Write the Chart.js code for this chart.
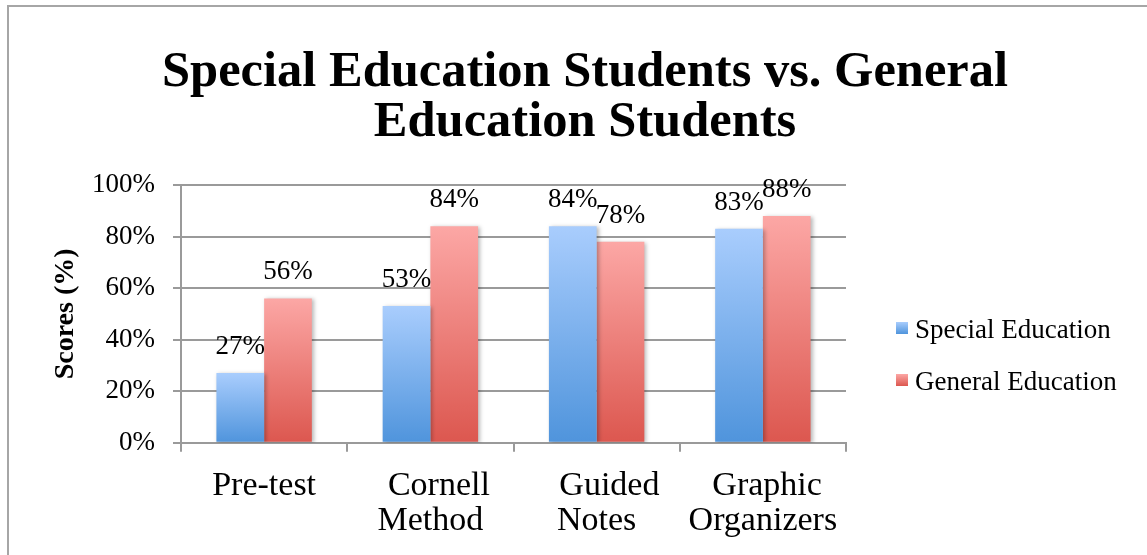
<!DOCTYPE html>
<html><head><meta charset="utf-8">
<script src="https://cdn.jsdelivr.net/npm/chart.js@4.4.1/dist/chart.umd.min.js"></script>
<style>
html,body{margin:0;padding:0;overflow:hidden;background:#fff;width:1147px;height:555px}
#frame{position:absolute;left:7px;top:5px;width:1160px;height:560px;border-left:2px solid #a6a6a6;border-top:2px solid #a6a6a6}
#wrap{position:absolute;left:0;top:0;width:1152px;height:548px}
</style></head><body>
<div id="frame"><div id="wrap"><canvas id="c" width="1152" height="548"></canvas></div></div>
<script>
const categories = ["Pre-test", ["  Cornell", "Method"], ["   Guided", "Notes"], [" Graphic", "Organizers"]];
const seriesNames = ["Special Education", "General Education"];
const specialEd = [27, 53, 84, 83];
const generalEd = [56, 84, 78, 88];
const titleLines = ["Special Education Students vs. General", "Education Students"];
const yAxisTitle = "Scores (%)";

const blueTop = '#a9cdfd', blueBottom = '#4f94dc';
const redTop = '#fca7a5', redBottom = '#dc574f';

function grad(top, bottom) {
  return function (ctx) {
    const chart = ctx.chart;
    if (!chart.chartArea || ctx.type !== 'data') return bottom;
    const y = chart.scales.y;
    const v = ctx.parsed ? ctx.parsed.y : ctx.raw;
    const y0 = y.getPixelForValue(v), y1 = y.getPixelForValue(0);
    const g = chart.ctx.createLinearGradient(0, y0, 0, y1);
    g.addColorStop(0, top);
    g.addColorStop(1, bottom);
    return g;
  };
}

const serif = '"Liberation Serif", "Times New Roman", serif';

const barDecor = {
  id: 'barDecor',
  beforeDatasetsDraw(chart) {
    const c = chart.ctx;
    c.save();
    c.shadowColor = 'rgba(0,0,0,0.28)';
    c.shadowBlur = 4;
    c.shadowOffsetX = 2;
    c.shadowOffsetY = 1;
  },
  afterDatasetsDraw(chart) {
    const c = chart.ctx;
    c.restore();
    c.save();
    c.font = '27px ' + serif;
    c.fillStyle = '#000';
    c.textAlign = 'center';
    c.textBaseline = 'alphabetic';
    chart.data.datasets.forEach((ds, i) => {
      chart.getDatasetMeta(i).data.forEach((bar, j) => {
        c.fillText(ds.data[j] + '%', bar.x, bar.y - 19);
      });
    });
    c.restore();
  }
};

const titleAndLegend = {
  id: 'titleAndLegend',
  afterDraw(chart) {
    const c = chart.ctx;
    c.save();
    // title centred on the whole chart box
    c.font = 'bold 50.5px ' + serif;
    c.fillStyle = '#000';
    c.textAlign = 'center';
    c.textBaseline = 'alphabetic';
    titleLines.forEach((t, i) => c.fillText(t, chart.width / 2, 79 + i * 50));
    // legend
    const colors = [[blueTop, blueBottom], [redTop, redBottom]];
    c.textAlign = 'left';
    c.font = '27px ' + serif;
    c.textBaseline = 'middle';
    chart.data.datasets.forEach((ds, i) => {
      const bx = chart.chartArea.right + 50;
      const by = 315 + i * 52;
      const g = c.createLinearGradient(0, by, 0, by + 12);
      g.addColorStop(0, colors[i][0]);
      g.addColorStop(1, colors[i][1]);
      c.fillStyle = g;
      c.fillRect(bx, by, 12, 12);
      c.fillStyle = '#000';
      c.fillText(ds.label, bx + 19, by + 9);
    });
    c.restore();
  }
};

new Chart(document.getElementById('c'), {
  type: 'bar',
  data: {
    labels: categories,
    datasets: [
      { label: seriesNames[0], data: specialEd, backgroundColor: grad(blueTop, blueBottom), borderWidth: 0 },
      { label: seriesNames[1], data: generalEd, backgroundColor: grad(redTop, redBottom), borderWidth: 0 }
    ]
  },
  options: {
    responsive: false,
    animation: false,
    devicePixelRatio: 1,
    categoryPercentage: 0.574,
    barPercentage: 1.0,
    layout: { padding: { left: 0, right: 315, top: 178, bottom: 0 } },
    plugins: {
      legend: { display: false },
      tooltip: { enabled: false },
      title: { display: false }
    },
    scales: {
      x: {
        afterFit(scale) { scale.height = 112.3; },
        grid: { display: true, drawOnChartArea: false, drawTicks: true, tickLength: 9, color: '#9a9a9a', lineWidth: 2, offset: true },
        border: { display: true, color: '#9a9a9a', width: 2 },
        ticks: { color: '#000', padding: 17, font: { family: serif, size: 34, lineHeight: 1.03 }, maxRotation: 0, autoSkip: false }
      },
      y: {
        min: 0, max: 100,
        afterFit(scale) { scale.width = 172; },
        grid: { color: '#9a9a9a', lineWidth: 2, tickLength: 8 },
        border: { display: true, color: '#9a9a9a', width: 2 },
        ticks: { stepSize: 20, color: '#000', padding: 18, font: { family: serif, size: 27 }, callback: v => v + '%' },
        title: { display: true, text: yAxisTitle, color: '#000', font: { family: serif, size: 28, weight: 'bold', lineHeight: 1.2 }, padding: { top: 40, bottom: 0 } }
      }
    }
  },
  plugins: [barDecor, titleAndLegend]
});
</script>
</body></html>
